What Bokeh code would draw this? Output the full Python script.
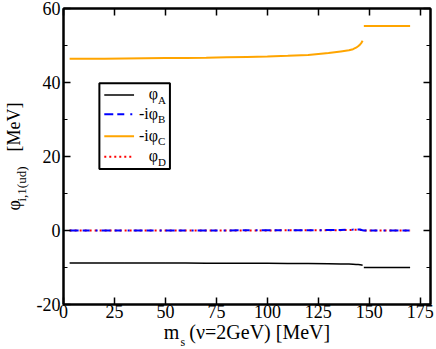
from bokeh.plotting import figure
from bokeh.models import (LinearAxis, FixedTicker, Label, BoxAnnotation, Arrow, Range1d, Title)
from bokeh.embed import file_html
from bokeh.resources import INLINE

# ---------------- data ----------------
ms_low = [3, 10, 20, 30, 40, 50, 60, 70, 80, 90, 100, 110, 120, 130, 136, 140, 142,
          143.5, 144.5, 145.5, 146.2, 146.7]
phiA_low = [-8.75, -8.75, -8.76, -8.77, -8.78, -8.8, -8.81, -8.82, -8.84, -8.86, -8.88,
            -8.9, -8.93, -8.98, -9.03, -9.08, -9.12, -9.17, -9.22, -9.28, -9.34, -9.4]
phiB_low = [0.0, 0.0, 0.0, 0.01, 0.01, 0.02, 0.02, 0.03, 0.03, 0.04, 0.05, 0.06, 0.08,
            0.11, 0.15, 0.2, 0.24, 0.28, 0.3, 0.25, 0.15, 0.05]
phiC_low = [46.4, 46.4, 46.45, 46.5, 46.55, 46.6, 46.65, 46.7, 46.8, 46.9, 47.0, 47.2,
            47.45, 47.95, 48.4, 48.7, 49.0, 49.4, 49.8, 50.3, 50.8, 51.3]
phiD_low = [0.0, 0.0, 0.0, 0.0, 0.01, 0.01, 0.01, 0.02, 0.02, 0.03, 0.03, 0.04, 0.05,
            0.07, 0.1, 0.13, 0.16, 0.18, 0.2, 0.16, 0.1, 0.03]

ms_high = [147.3, 155, 160, 170]
phiA_high = [-10.0, -10.0, -10.0, -10.0]
phiB_high = [0.0, 0.0, 0.0, 0.0]
phiC_high = [55.3, 55.3, 55.3, 55.3]
phiD_high = [0.0, 0.0, 0.0, 0.0]

x_ticks = [0, 25, 50, 75, 100, 125, 150, 175]
y_ticks = [-20, 0, 20, 40, 60]
y_minor = [-10, 10, 30, 50]
y_tick_text = {-20: "-20"}

FONT = "Liberation Serif"

p = figure(width=436, height=349, output_backend="svg", toolbar_location=None,
           x_range=Range1d(0, 180), y_range=Range1d(-20, 60),
           min_border_left=61, min_border_right=6, min_border_top=8, min_border_bottom=45)
p.xgrid.visible = False
p.ygrid.visible = False
p.outline_line_color = "black"
p.outline_line_width = 2
p.background_fill_color = "white"
p.border_fill_color = "white"

def style_axis(ax, ticks, minor, labels=True):
    ax.ticker = FixedTicker(ticks=ticks, minor_ticks=minor)
    ax.major_tick_in = 7
    ax.major_tick_out = 0
    ax.minor_tick_in = 4
    ax.minor_tick_out = 0
    ax.axis_line_color = "black"
    ax.axis_line_width = 2
    ax.major_tick_line_width = 1.5
    ax.minor_tick_line_width = 1
    if labels:
        ax.major_label_text_font = FONT
        ax.major_label_text_font_size = "18px"
        ax.major_label_text_color = "black"
    else:
        ax.major_label_text_font_size = "1px"
        ax.major_label_text_color = None
        ax.major_label_standoff = 0

xax = p.xaxis[0]
yax = p.yaxis[0]
style_axis(xax, x_ticks, [])
style_axis(yax, y_ticks, y_minor)
xax.major_label_standoff = 0
yax.major_label_standoff = 3
yax.major_label_overrides = y_tick_text

# axis titles: main text on the axes, subscripts as extra titles
xax.axis_label = "m\u2002(ν=2GeV) [MeV]"
xax.axis_label_text_font = FONT
xax.axis_label_text_font_size = "20px"
xax.axis_label_text_font_style = "normal"
xax.axis_label_text_color = "black"
xax.axis_label_standoff = 0

yax.axis_label = "φ\u2003\u2003\u2002\u2009[MeV]"
yax.axis_label_text_font = FONT
yax.axis_label_text_font_size = "18px"
yax.axis_label_text_font_style = "normal"
yax.axis_label_text_color = "black"
yax.axis_label_standoff = 10

top = LinearAxis()
right = LinearAxis()
style_axis(top, x_ticks, [], labels=False)
style_axis(right, y_ticks, y_minor, labels=False)
p.add_layout(top, "above")
p.add_layout(right, "right")

p.add_layout(Title(text="s", align="left", vertical_align="top", offset=117, standoff=-22,
                   text_font=FONT, text_font_size="12px", text_font_style="normal",
                   text_color="black"), "below")
p.add_layout(Title(text="i,1(ud)", align="left", vertical_align="bottom", offset=103,
                   standoff=-56, text_font=FONT, text_font_size="13px",
                   text_font_style="normal", text_color="black"), "left")

# ---------------- lines ----------------
for xs, ys in ((ms_low, phiA_low), (ms_high, phiA_high)):
    p.line(xs, ys, line_color="black", line_width=1.5)
for xs, ys in ((ms_low, phiC_low), (ms_high, phiC_high)):
    p.line(xs, ys, line_color="#ffa500", line_width=2)
ms_all = ms_low + ms_high
p.line(ms_all, phiD_low + phiD_high, line_color="#ff0000", line_width=2, line_dash="2 3")
p.line(ms_all, phiB_low + phiB_high, line_color="#0000ff", line_width=2, line_dash="9 4 7 6 2 4")

# ---------------- legend (drawn by hand for subscripts) ----------------
p.add_layout(BoxAnnotation(left=17.6, right=52.2, top=39.8, bottom=16.6,
                           fill_color="white", fill_alpha=1.0,
                           line_color="black", line_width=2, line_alpha=1.0))
legend_rows = [
    ("φ", "A", "black", 1.5, "solid"),
    ("-iφ", "B", "#0000ff", 2, "9 4 7 6 2 4"),
    ("-iφ", "C", "#ffa500", 2, "solid"),
    ("φ", "D", "#ff0000", 2, "2 3"),
]
row_y = [36.6, 31.4, 25.5, 19.9]
for (main, sub, col, lw, dash), yy in zip(legend_rows, row_y):
    p.add_layout(Arrow(x_start=20.0, y_start=yy, x_end=34.6, y_end=yy, end=None,
                       line_color=col, line_width=lw, line_dash=dash))
    p.add_layout(Label(x=46.3, y=yy + 0.3, text=main, text_align="right",
                       text_baseline="middle", text_font=FONT,
                       text_font_size="16px", text_color="black"))
    p.add_layout(Label(x=46.3, y=yy - 1.3, text=sub, text_align="left",
                       text_baseline="middle", text_font=FONT,
                       text_font_size="11px", text_color="black"))

open("out.html", "w").write(file_html(p, INLINE))
